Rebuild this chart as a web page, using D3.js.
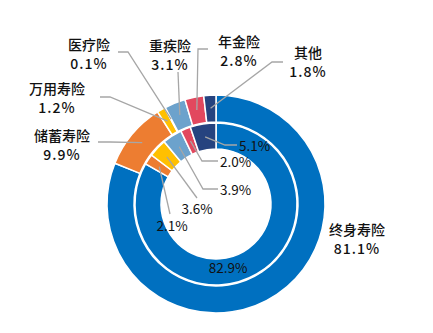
<!DOCTYPE html>
<html>
<head>
<meta charset="utf-8">
<script src="https://cdn.jsdelivr.net/npm/d3@7"></script>
<style>
  html, body { margin: 0; padding: 0; background: #fff; }
  svg { display: block; font-family: "Noto Sans CJK SC", "Noto Sans", sans-serif; }
</style>
</head>
<body>
<svg id="chart" width="433" height="333"></svg>
<script>
// Product categories (clockwise from 12 o'clock)
const categories = ["终身寿险", "储蓄寿险", "万用寿险", "医疗险", "重疾险", "年金险", "其他"];
const colors     = ["#0070C0", "#ED7D31", "#FFC000", "#F2B91F", "#6CA2CC", "#E2485E", "#26437F"];

// Outer ring shares (%)
const outerValues = [81.1, 9.9, 1.2, 0.1, 3.1, 2.8, 1.8];
// Inner ring shares (%) — 医疗险 has no slice in the inner ring
const innerCats   = ["终身寿险", "储蓄寿险", "万用寿险", "重疾险", "年金险", "其他"];
const innerValues = [82.9, 2.1, 3.6, 3.9, 2.0, 5.1];

// Label layout: outer labels (name + percent), with leader elbows
const outerLabelPos = {
  "终身寿险": { x: 357, y: 229, line: null },
  "储蓄寿险": { x: 62,  y: 135, line: [[110, 142], [98, 142]] },
  "万用寿险": { x: 57,  y: 88,  line: [[110, 97], [100, 97]] },
  "医疗险":   { x: 89,  y: 44,  line: [[128, 52], [118, 52]] },
  "重疾险":   { x: 170, y: 45,  line: [[178, 72]] },
  "年金险":   { x: 239, y: 41,  line: [[198, 49], [208, 49]] },
  "其他":     { x: 308, y: 52,  line: [[272, 62], [283, 62]] }
};
// Inner labels (percent only)
const innerLabelPos = {
  "终身寿险": { x: 228, y: 267, anchor: "middle", line: null },
  "储蓄寿险": { x: 172, y: 225, anchor: "middle", line: [[170, 214]] },
  "万用寿险": { x: 197, y: 208, anchor: "middle", line: [[197, 198]] },
  "重疾险":   { x: 220, y: 189, anchor: "start",  line: [[203, 189], [218, 189]] },
  "年金险":   { x: 220, y: 161, anchor: "start",  line: [[202, 161], [218, 161]] },
  "其他":     { x: 239, y: 145, anchor: "start",  line: [[225, 145], [237, 145]] }
};

const svg = d3.select("#chart");
const cx = 216, cy = 204;
const g = svg.append("g").attr("transform", `translate(${cx},${cy})`);

const colorOf = d3.scaleOrdinal().domain(categories).range(colors);

const pie = d3.pie().sort(null).value(d => d.value);

const outerData = pie(categories.map((c, i) => ({ cat: c, value: outerValues[i] })));
const innerData = pie(innerCats.map((c, i) => ({ cat: c, value: innerValues[i] })));

const outerArc = d3.arc().innerRadius(82).outerRadius(109);
const innerArc = d3.arc().innerRadius(55).outerRadius(81);
const outerMid = d3.arc().innerRadius(96).outerRadius(96);
const innerMid = d3.arc().innerRadius(68).outerRadius(68);

g.selectAll("path.outer").data(outerData).join("path")
  .attr("class", "outer")
  .attr("d", outerArc)
  .attr("fill", d => colorOf(d.data.cat))
  .attr("stroke", "#fff").attr("stroke-width", 1.5);

g.selectAll("path.inner").data(innerData).join("path")
  .attr("class", "inner")
  .attr("d", innerArc)
  .attr("fill", d => colorOf(d.data.cat))
  .attr("stroke", "#fff").attr("stroke-width", 1.5);

// Leader lines
const lineGen = d3.line();
function leader(d, midArc, pos) {
  if (!pos.line) return;
  const [x0, y0] = midArc.centroid(d);
  const pts = [[x0 + cx, y0 + cy], ...pos.line];
  svg.append("path")
    .attr("d", lineGen(pts))
    .attr("fill", "none")
    .attr("stroke", "#A6A6A6")
    .attr("stroke-width", 1.3);
}
outerData.forEach(d => leader(d, outerMid, outerLabelPos[d.data.cat]));
innerData.forEach(d => leader(d, innerMid, innerLabelPos[d.data.cat]));

// Outer labels: category name above, share below
outerData.forEach(d => {
  const p = outerLabelPos[d.data.cat];
  svg.append("text")
    .attr("x", p.x).attr("y", p.y)
    .attr("text-anchor", "middle")
    .attr("dominant-baseline", "central")
    .attr("font-size", 14)
    .attr("font-weight", 500)
    .attr("fill", "#111")
    .text(d.data.cat);
  svg.append("text")
    .attr("x", p.x).attr("y", p.y + 18.5)
    .attr("text-anchor", "middle")
    .attr("dominant-baseline", "central")
    .attr("font-size", 14)
    .attr("font-weight", 500)
    .attr("letter-spacing", 1)
    .attr("fill", "#111")
    .text(d3.format(".1f")(d.data.value) + "%");
});

// Inner labels
innerData.forEach(d => {
  const p = innerLabelPos[d.data.cat];
  svg.append("text")
    .attr("x", p.x).attr("y", p.y)
    .attr("text-anchor", p.anchor)
    .attr("dominant-baseline", "central")
    .attr("font-size", 13.5)
    .attr("fill", "#111")
    .text(d3.format(".1f")(d.data.value) + "%");
});
</script>
</body>
</html>
